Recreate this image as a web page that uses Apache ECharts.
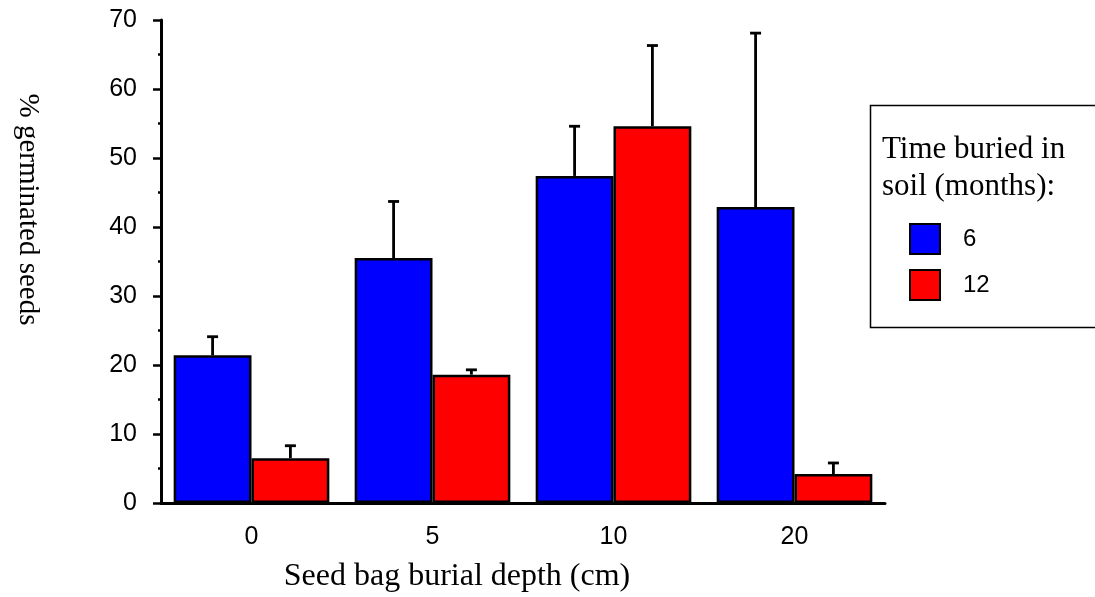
<!DOCTYPE html>
<html>
<head>
<meta charset="utf-8">
<script src="https://cdn.jsdelivr.net/npm/echarts@6/dist/echarts.min.js"></script>
<style>
  html, body { margin: 0; padding: 0; background: #fff; }
  #chart { width: 1095px; height: 597px; }
</style>
</head>
<body>
<div id="chart"></div>
<script>
// burial depth categories (cm)
var depths = ["0", "5", "10", "20"];
// % germinated seeds, mean
var months6 = [21.4, 35.5, 47.4, 42.9];
var months12 = [6.5, 18.6, 54.6, 4.2];
// upper error bars (one-sided)
var err6 = [2.7, 8.2, 7.2, 25.2];
var err12 = [1.8, 0.7, 11.7, 1.6];
var yTicks = [0, 10, 20, 30, 40, 50, 60, 70];

var BAR_PCT = 0.43;
var sans = "Liberation Sans, Arial, sans-serif";
var serif = "Liberation Serif, Times New Roman, serif";

function errData(means, errs) {
  return means.map(function (m, i) { return [i, m, errs[i]]; });
}

// draws error bar above each bar, shifted to the bar's centre
function errRender(side) {
  return function (params, api) {
    var band = api.size([1, 0])[0];
    var off = side * band * BAR_PCT / 2;
    var base = api.coord([api.value(0), api.value(1)]);
    var top = api.coord([api.value(0), api.value(1) + api.value(2)]);
    var x = base[0] + off;
    var st = { stroke: "#000", lineWidth: 2.8 };
    return {
      type: "group",
      children: [
        { type: "line", shape: { x1: x, y1: base[1], x2: x, y2: top[1] }, style: st },
        { type: "line", shape: { x1: x - 5.5, y1: top[1], x2: x + 5.5, y2: top[1] }, style: st }
      ]
    };
  };
}

var chart = echarts.init(document.getElementById("chart"));
var option = {
  animation: false,
  backgroundColor: "#fff",
  title: {
    text: "Time buried in\nsoil (months):",
    left: 882,
    top: 131,
    padding: 0,
    textStyle: { fontFamily: serif, fontSize: 31, fontWeight: "normal", color: "#000", lineHeight: 37 }
  },
  graphic: [{
    type: "rect",
    left: 868,
    top: 103,
    shape: { width: 240, height: 222 },
    style: { fill: "none", stroke: "#000", lineWidth: 1.5 },
    z: -1
  }],
  legend: {
    data: ["6", "12"],
    orient: "vertical",
    left: 909,
    top: 223,
    padding: 0,
    itemWidth: 30,
    itemHeight: 30,
    itemGap: 14,
    icon: "rect",
    textStyle: { fontFamily: sans, fontSize: 24, color: "#000", padding: [0, 0, 0, 18] }
  },
  grid: { left: 161, right: 210, top: 20, bottom: 94, containLabel: false, outerBoundsMode: "none" },
  xAxis: {
    type: "category",
    data: depths,
    name: "Seed bag burial depth (cm)",
    nameLocation: "middle",
    nameGap: 58,
    nameTextStyle: { fontFamily: serif, fontSize: 32, color: "#000", padding: [0, 132, 0, 0] },
    axisLine: { lineStyle: { color: "#000", width: 3 } },
    axisTick: { alignWithLabel: true, length: 4, lineStyle: { width: 3, color: "#000" } },
    axisLabel: { fontFamily: sans, fontSize: 25, color: "#000", margin: 22 },
    splitLine: { show: false }
  },
  yAxis: {
    type: "value",
    min: yTicks[0],
    max: yTicks[yTicks.length - 1],
    interval: 10,
    name: "% germinated seeds",
    nameLocation: "middle",
    nameRotate: -90,
    nameGap: 119,
    nameTextStyle: { fontFamily: serif, fontSize: 29, color: "#000", padding: [0, 104, 0, 0] },
    axisLine: { show: true, lineStyle: { color: "#000", width: 3 } },
    axisTick: { show: true, length: 8, lineStyle: { width: 2.5, color: "#000" } },
    minorTick: { show: true, splitNumber: 2, length: 3, lineStyle: { width: 2.5, color: "#000" } },
    axisLabel: { fontFamily: sans, fontSize: 25, color: "#000", margin: 24 },
    splitLine: { show: false }
  },
  series: [
    {
      name: "6",
      type: "bar",
      data: months6,
      barWidth: (BAR_PCT * 100) + "%",
      barGap: "0%",
      itemStyle: { color: "#0000ff", borderColor: "#000", borderWidth: 2.5 }
    },
    {
      name: "12",
      type: "bar",
      data: months12,
      barWidth: (BAR_PCT * 100) + "%",
      barGap: "0%",
      itemStyle: { color: "#ff0000", borderColor: "#000", borderWidth: 2.5 }
    },
    {
      type: "custom",
      name: "err6",
      data: errData(months6, err6),
      renderItem: errRender(-1),
      z: 3
    },
    {
      type: "custom",
      name: "err12",
      data: errData(months12, err12),
      renderItem: errRender(1),
      z: 3
    }
  ]
};
chart.setOption(option);
</script>
</body>
</html>
